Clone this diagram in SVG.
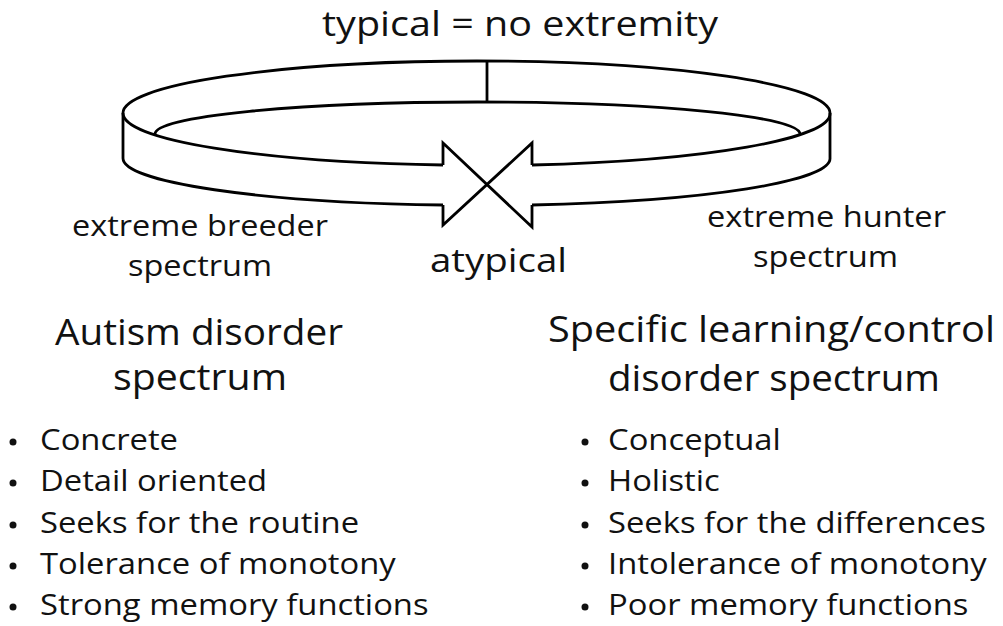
<svg xmlns="http://www.w3.org/2000/svg" width="1003" height="626" viewBox="0 0 1003 626">
<style>
.ln{fill:none;stroke:#000;stroke-width:2.8;stroke-linejoin:miter;}
text{font-family:"Open Sans","Noto Sans",sans-serif;fill:#111;}
.t{font-size:34px;}
.a{font-size:33px;}
.s{font-size:29px;}
.h{font-size:36px;}
.b{font-size:30px;}
.dot{fill:#111;}
</style>
<rect width="1003" height="626" fill="#fff"/>
<g id="ring">
<path class="ln" d="M443,165 A353.5,52 0 0 1 123,113 A353.5,52 0 0 1 830,113 A353.5,52 0 0 1 532,165"/>
<path class="ln" d="M155,134 A322.5,32 0 0 1 800,134"/>
<path class="ln" d="M487,61 L487,102"/>
<path class="ln" d="M123,113 L123,158 A353.5,47 0 0 0 443,205"/>
<path class="ln" d="M830,113 L830,158 A353.5,47 0 0 1 532,205"/>
<path class="ln" d="M443,165 L443,143 L532,227 L532,205"/>
<path class="ln" d="M443,205 L443,225 L532,143 L532,165"/>
</g>
<g id="labels">
<text class="t" x="322" y="36" textLength="396" lengthAdjust="spacingAndGlyphs">typical = no extremity</text>
<text class="s" x="72" y="236" textLength="256" lengthAdjust="spacingAndGlyphs">extreme breeder</text>
<text class="s" x="128" y="276" textLength="144" lengthAdjust="spacingAndGlyphs">spectrum</text>
<text class="a" x="430" y="272" textLength="137" lengthAdjust="spacingAndGlyphs">atypical</text>
<text class="s" x="707" y="227" textLength="239" lengthAdjust="spacingAndGlyphs">extreme hunter</text>
<text class="s" x="753" y="267" textLength="145" lengthAdjust="spacingAndGlyphs">spectrum</text>
</g>
<g id="left">
<text class="h" x="55" y="345" textLength="288" lengthAdjust="spacingAndGlyphs">Autism disorder</text>
<text class="h" x="113" y="390" textLength="174" lengthAdjust="spacingAndGlyphs">spectrum</text>
<g transform="matrix(1.093,0,0,1,40,0)">
<text class="b" x="0" y="450">Concrete</text>
<text class="b" x="0" y="491">Detail oriented</text>
<text class="b" x="0" y="533">Seeks for the routine</text>
<text class="b" x="0" y="574">Tolerance of monotony</text>
<text class="b" x="0" y="615">Strong memory functions</text>
</g>
<circle class="dot" cx="13" cy="442" r="3.5"/>
<circle class="dot" cx="13" cy="483" r="3.5"/>
<circle class="dot" cx="13" cy="525" r="3.5"/>
<circle class="dot" cx="13" cy="566" r="3.5"/>
<circle class="dot" cx="13" cy="607" r="3.5"/>
</g>
<g id="right">
<text class="h" x="548" y="342" textLength="447" lengthAdjust="spacingAndGlyphs">Specific learning/control</text>
<text class="h" x="608" y="391" textLength="332" lengthAdjust="spacingAndGlyphs">disorder spectrum</text>
<g transform="matrix(1.093,0,0,1,608,0)">
<text class="b" x="0" y="450">Conceptual</text>
<text class="b" x="0" y="491">Holistic</text>
<text class="b" x="0" y="533">Seeks for the differences</text>
<text class="b" x="0" y="574">Intolerance of monotony</text>
<text class="b" x="0" y="615">Poor memory functions</text>
</g>
<circle class="dot" cx="585" cy="442" r="3.5"/>
<circle class="dot" cx="585" cy="483" r="3.5"/>
<circle class="dot" cx="585" cy="525" r="3.5"/>
<circle class="dot" cx="585" cy="566" r="3.5"/>
<circle class="dot" cx="585" cy="607" r="3.5"/>
</g>
</svg>
